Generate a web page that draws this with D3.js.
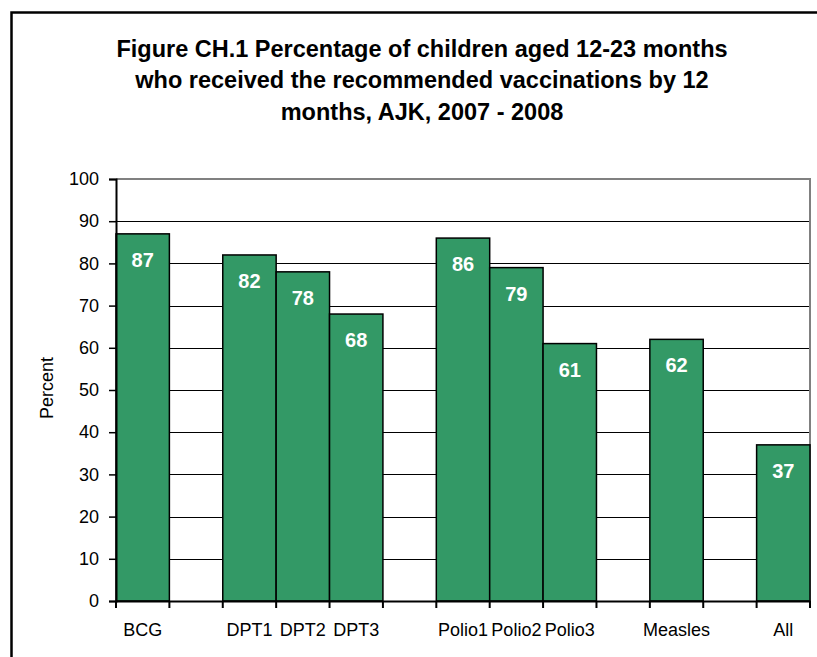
<!DOCTYPE html>
<html><head><meta charset="utf-8">
<script src="https://cdn.jsdelivr.net/npm/d3@7"></script>
<style>body{margin:0;background:#fff;}svg{display:block;font-family:"Liberation Sans",Arial,sans-serif;}</style>
</head><body>
<script>
const categories = ["BCG","gap1","DPT1","DPT2","DPT3","gap2","Polio1","Polio2","Polio3","gap3","Measles","gap4","All"];
const tickLabels = ["BCG","","DPT1","DPT2","DPT3","","Polio1","Polio2","Polio3","","Measles","","All"];
const values = [87,null,82,78,68,null,86,79,61,null,62,null,37];
const yTicks = [0,10,20,30,40,50,60,70,80,90,100];
const titleLines = ["Figure CH.1 Percentage of children aged 12-23 months","who received the recommended vaccinations by 12","months, AJK, 2007 - 2008"];

const W=817,H=657;
const svg=d3.select("body").append("svg").attr("width",W).attr("height",H);
svg.append("rect").attr("width",W).attr("height",H).attr("fill","#fff");
// outer frame
svg.append("path").attr("d",`M11.5,${H} V12.5 H${W}`).attr("fill","none").attr("stroke","#000").attr("stroke-width",2.5);

const L=116,R=810,T=179,B=601;
const x=d3.scaleBand().domain(categories).range([L,R]).padding(0);
const y=d3.scaleLinear().domain([0,100]).range([B,T]);

// title
svg.append("g").selectAll("text").data(titleLines).join("text")
 .attr("x",422).attr("y",(d,i)=>56.5+i*31.5).attr("text-anchor","middle")
 .attr("font-size",23.5).attr("font-weight","bold").attr("fill","#000").text(d=>d);

// gridlines
svg.append("g").selectAll("line").data(yTicks.filter(d=>d>0&&d<100)).join("line")
 .attr("x1",L).attr("x2",R).attr("y1",d=>Math.round(y(d))+0.5).attr("y2",d=>Math.round(y(d))+0.5)
 .attr("stroke","#000").attr("stroke-width",1);
// top/right gray border
svg.append("path").attr("d",`M${L},${T} H${R} V${B}`).attr("fill","none").attr("stroke","#808080").attr("stroke-width",2);

// bars
const bd=categories.map((c,i)=>({c,v:values[i]})).filter(d=>d.v!=null);
svg.append("g").selectAll("rect").data(bd).join("rect")
 .attr("x",d=>x(d.c)).attr("width",x.bandwidth()).attr("y",d=>y(d.v)).attr("height",d=>B-y(d.v))
 .attr("fill","#339966").attr("stroke","#000").attr("stroke-width",1.5);
svg.append("g").selectAll("text").data(bd).join("text")
 .attr("x",d=>x(d.c)+x.bandwidth()/2).attr("y",d=>y(d.v)+33).attr("text-anchor","middle")
 .attr("font-size",20).attr("font-weight","bold").attr("fill","#fff").text(d=>d.v);

// y axis
const ya=svg.append("g").attr("transform",`translate(${L},0)`)
 .call(d3.axisLeft(y).tickValues(yTicks).tickSize(7).tickPadding(10).tickFormat(d3.format("d")));
ya.select(".domain").attr("stroke","#000").attr("stroke-width",2);
ya.selectAll(".tick line").attr("stroke","#000").attr("stroke-width",1.5);
ya.selectAll("text").attr("font-size",18).attr("fill","#000").attr("font-family","Liberation Sans, Arial, sans-serif");

// x axis
const xa=svg.append("g").attr("transform",`translate(0,${B})`)
 .call(d3.axisBottom(x).tickSize(0).tickPadding(22).tickFormat((d,i)=>tickLabels[i]));
xa.select(".domain").attr("stroke","#000").attr("stroke-width",2);
xa.selectAll("text").attr("font-size",18).attr("fill","#000").attr("font-family","Liberation Sans, Arial, sans-serif");
// boundary ticks
const bounds=categories.map(c=>x(c)).concat([R]);
svg.append("g").selectAll("line").data(bounds).join("line")
 .attr("x1",d=>d).attr("x2",d=>d).attr("y1",B).attr("y2",B+7).attr("stroke","#000").attr("stroke-width",2);

// y label
svg.append("text").attr("transform","translate(53,388) rotate(-90)").attr("text-anchor","middle")
 .attr("font-size",18).attr("fill","#000").text("Percent");
</script>
</body></html>
